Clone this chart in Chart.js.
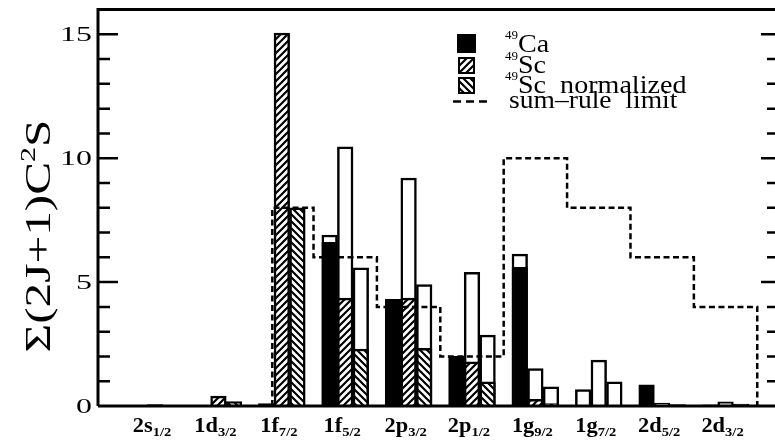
<!DOCTYPE html>
<html>
<head>
<meta charset="utf-8">
<script src="https://cdn.jsdelivr.net/npm/chart.js@4.4.1/dist/chart.umd.min.js"></script>
<style>
  html, body { margin: 0; padding: 0; background: #fff; overflow: hidden; }
</style>
</head>
<body>
<canvas id="strengthChart" width="775" height="443"></canvas>
<script>
// orbitals (x categories) and their j subscripts
const orbitals = ['2s', '1d', '1f', '1f', '2p', '2p', '1g', '1g', '2d', '2d'];
const jLabels = ['1/2', '3/2', '7/2', '5/2', '3/2', '1/2', '9/2', '7/2', '5/2', '3/2'];

// summed strength, filled part of each bar
const ca49 = [0, 0, 0.1, 6.6, 4.3, 2.0, 5.6, 0, 0.85, 0.05];
const sc49 = [0.06, 0.4, 15.05, 4.35, 4.35, 1.78, 0.27, 0, 0, 0];
const sc49Norm = [0.03, 0.18, 8.0, 2.3, 2.33, 0.98, 0.1, 0, 0, 0];

// open (upper) part of each bar, where there is one
const ca49Upper = [null, null, null, 6.9, null, null, 6.13, 0.66, null, null];
const sc49Upper = [null, null, null, 10.46, 9.2, 5.39, 1.51, 1.85, 0.12, 0.17];
const sc49NormUpper = [null, null, null, 5.58, 4.9, 2.86, 0.77, 0.98, 0.06, 0.08];

// sum-rule limit: step edges (in category units) and level of each step
const sumRuleEdges = [1.85, 2.5, 3.5, 4.5, 5.5, 6.5, 7.5, 8.5, 9.5];
const sumRuleLimit = [8, 6, 4, 2, 10, 8, 6, 4];

const yTicks = [0, 5, 10, 15];
const yMinor = [0, 1, 2, 3, 4, 5, 6, 7, 8, 9, 10, 11, 12, 13, 14, 15, 16];

const SERIF = '"Liberation Serif", serif';

function hatch(dir) {
  const c = document.createElement('canvas');
  c.width = 7; c.height = 7;
  const g = c.getContext('2d');
  g.fillStyle = '#fff';
  g.fillRect(0, 0, 7, 7);
  g.strokeStyle = '#000';
  g.lineWidth = 2.2;
  g.beginPath();
  if (dir > 0) {
    g.moveTo(-1, 8); g.lineTo(8, -1);
    g.moveTo(-1, 1); g.lineTo(1, -1);
    g.moveTo(6, 8); g.lineTo(8, 6);
  } else {
    g.moveTo(-1, -1); g.lineTo(8, 8);
    g.moveTo(6, -1); g.lineTo(8, 1);
    g.moveTo(-1, 6); g.lineTo(1, 8);
  }
  g.stroke();
  return g.createPattern(c, 'repeat');
}

const hatchUp = hatch(1);
const hatchDown = hatch(-1);

function pts(arr) {
  return arr.map((v, i) => ({ x: i, y: v }));
}

function sumRulePoints() {
  const p = [{ x: sumRuleEdges[0], y: 0 }];
  sumRuleLimit.forEach((v, i) => {
    p.push({ x: sumRuleEdges[i], y: v });
    p.push({ x: sumRuleEdges[i + 1], y: v });
  });
  p.push({ x: sumRuleEdges[sumRuleEdges.length - 1], y: 0 });
  return p;
}

// frame, inward ticks, tick labels, axis title, legend
const decorPlugin = {
  id: 'decor',
  afterDatasetsDraw(chart) {
    const { ctx, chartArea: a, scales: { x, y } } = chart;
    ctx.save();
    ctx.strokeStyle = '#000';
    ctx.fillStyle = '#000';
    ctx.lineWidth = 3;
    ctx.beginPath();
    ctx.moveTo(a.left, a.bottom); ctx.lineTo(a.right, a.bottom);
    ctx.moveTo(a.left - 1.5, a.top); ctx.lineTo(a.right, a.top);
    ctx.moveTo(a.left, a.top); ctx.lineTo(a.left, a.bottom);
    ctx.stroke();

    ctx.lineWidth = 2.5;
    ctx.beginPath();
    yMinor.forEach(v => {
      if (v <= 0 || v >= 16) return;
      const py = y.getPixelForValue(v);
      const major = yTicks.includes(v);
      ctx.moveTo(a.left, py); ctx.lineTo(a.left + (major ? 20 : 12), py);
      ctx.moveTo(a.right, py); ctx.lineTo(a.right - (major ? 14 : 8), py);
    });
    ctx.stroke();

    // y tick labels
    ctx.font = '22px ' + SERIF;
    ctx.textAlign = 'right';
    ctx.textBaseline = 'middle';
    yTicks.forEach(v => {
      ctx.save();
      ctx.translate(a.left - 6, y.getPixelForValue(v) + 1);
      ctx.scale(1.45, 1);
      ctx.fillText(String(v), 0, 0);
      ctx.restore();
    });

    // x category labels with subscripts
    ctx.textAlign = 'left';
    ctx.textBaseline = 'alphabetic';
    orbitals.forEach((o, i) => {
      const px = x.getPixelForValue(i);
      ctx.font = 'bold 20px ' + SERIF;
      const wm = ctx.measureText(o).width;
      ctx.font = 'bold 13px ' + SERIF;
      const ws = ctx.measureText(jLabels[i]).width;
      const sx = 1.12;
      ctx.save();
      ctx.translate(px - 3 - (wm + ws) * sx / 2, 432);
      ctx.scale(sx, 1);
      ctx.font = 'bold 20px ' + SERIF;
      ctx.fillText(o, 0, 0);
      ctx.font = 'bold 13px ' + SERIF;
      ctx.fillText(jLabels[i], wm, 4);
      ctx.restore();
    });

    // y axis title, rotated
    const parts = [['\u03A3(2J+1)C', 36, 0], ['2', 22, -15], ['S', 36, 0]];
    let total = 0;
    parts.forEach(p => { ctx.font = p[1] + 'px ' + SERIF; p.push(ctx.measureText(p[0]).width); total += p[3]; });
    ctx.save();
    ctx.translate(50, 236);
    ctx.rotate(-Math.PI / 2);
    ctx.scale(233 / total, 1);
    let cx = -total / 2;
    parts.forEach(p => {
      ctx.font = p[1] + 'px ' + SERIF;
      ctx.fillText(p[0], cx, p[2]);
      cx += p[3];
    });
    ctx.restore();

    // legend
    const rows = [
      { fill: '#000', iso: 'Ca', box: [458, 35, 17, 17], base: 52 },
      { fill: hatchUp, iso: 'Sc', box: [459, 58, 15, 15], base: 73 },
      { fill: hatchDown, iso: 'Sc  normalized', box: [459, 78, 15, 15], base: 93 }
    ];
    rows.forEach(r => {
      ctx.fillStyle = r.fill;
      ctx.fillRect(...r.box);
      ctx.lineWidth = 2;
      ctx.strokeStyle = '#000';
      ctx.strokeRect(...r.box);
      ctx.fillStyle = '#000';
      ctx.font = '13px ' + SERIF;
      ctx.fillText('49', 505, r.base - 13);
      ctx.save();
      ctx.translate(518, r.base);
      ctx.scale(1.08, 1);
      ctx.font = '26px ' + SERIF;
      ctx.fillText(r.iso, 0, 0);
      ctx.restore();
    });
    ctx.lineWidth = 2.5;
    ctx.setLineDash([8, 5]);
    ctx.beginPath();
    ctx.moveTo(453, 101.5); ctx.lineTo(489, 101.5);
    ctx.stroke();
    ctx.setLineDash([]);
    ctx.save();
    ctx.translate(509, 108);
    ctx.scale(1.06, 1);
    ctx.font = '26px ' + SERIF;
    ctx.fillText('sum\u2013rule  limit', 0, 0);
    ctx.restore();

    ctx.restore();
  }
};

function buildChart() {
  const canvas = document.getElementById('strengthChart');
  return new Chart(canvas, {
    type: 'bar',
    data: {
      datasets: [
        {
          type: 'line', label: 'sum-rule limit', data: sumRulePoints(),
          borderColor: '#000', borderWidth: 2.5, borderDash: [6, 3.5],
          pointRadius: 0, fill: false, tension: 0, order: 0
        },
        { label: '49Ca', data: pts(ca49), stack: 'ca', backgroundColor: '#000', order: 1 },
        { label: '49Sc', data: pts(sc49), stack: 'sc', backgroundColor: hatchUp, order: 1 },
        { label: '49Sc normalized', data: pts(sc49Norm), stack: 'scn', backgroundColor: hatchDown, order: 1 },
        { label: '49Ca open', data: pts(ca49Upper), stack: 'ca', backgroundColor: '#fff', order: 2 },
        { label: '49Sc open', data: pts(sc49Upper), stack: 'sc', backgroundColor: '#fff', order: 2 },
        { label: '49Sc normalized open', data: pts(sc49NormUpper), stack: 'scn', backgroundColor: '#fff', order: 2 }
      ]
    },
    options: {
      responsive: false,
      animation: false,
      devicePixelRatio: 1,
      layout: { padding: { left: 98, top: 9.5, right: 0, bottom: 37 } },
      datasets: {
        bar: { barThickness: 15.6, borderColor: '#000', borderWidth: 2.5, borderSkipped: 'start' }
      },
      scales: {
        x: { type: 'linear', min: -0.9, max: 9.78, offset: false, display: false },
        y: { type: 'linear', min: 0, max: 16, stacked: false, display: false }
      },
      plugins: {
        legend: { display: false },
        tooltip: { enabled: false }
      }
    },
    plugins: [decorPlugin]
  });
}

// make sure the serif face is ready before the canvas text is drawn
Promise.all([
  document.fonts.load('26px "Liberation Serif"'),
  document.fonts.load('bold 20px "Liberation Serif"')
]).catch(() => {}).then(buildChart);
</script>
</body>
</html>
